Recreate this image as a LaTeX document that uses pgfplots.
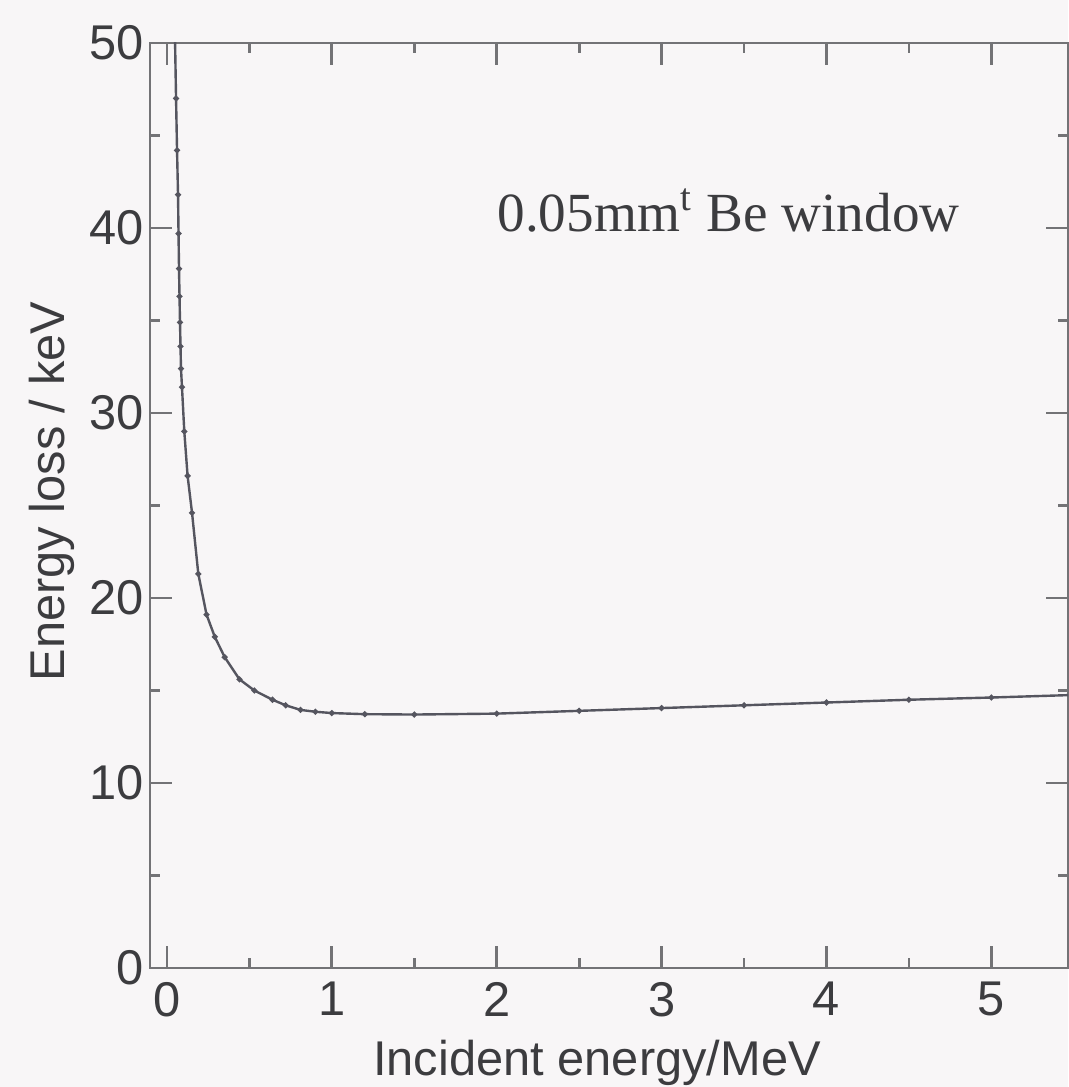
\documentclass[border=0pt]{standalone}
\usepackage{pgfplots}
\pgfplotsset{compat=1.18}
\usepackage{fontspec}
\setmainfont{Liberation Sans}
\newfontfamily\timesfont{Liberation Serif}
\usetikzlibrary{calc}
\definecolor{bgc}{RGB}{248,246,247}
\definecolor{axc}{RGB}{115,115,118}
\definecolor{curvec}{RGB}{85,85,95}
\definecolor{txtc}{RGB}{60,60,63}
\pagecolor{bgc}

% Energy loss of electrons in a 0.05 mm Be window
\pgfplotstableread{
E      loss
0.048  50.6
0.055  47.0
0.061  44.2
0.067  41.8
0.070  39.7
0.073  37.8
0.076  36.3
0.079  34.9
0.082  33.6
0.085  32.4
0.091  31.4
0.105  29.0
0.125  26.6
0.152  24.6
0.190  21.3
0.240  19.1
0.290  17.9
0.350  16.8
0.440  15.6
0.530  15.0
0.640  14.5
0.720  14.2
0.810  13.95
0.900  13.85
1.000  13.78
1.200  13.72
1.500  13.70
2.000  13.75
2.500  13.90
3.000  14.05
3.500  14.20
4.000  14.35
4.500  14.50
5.000  14.62
5.470  14.75
}\lossdata

\begin{document}
\begin{tikzpicture}
\begin{axis}[
  scale only axis,
  width=229.5pt, height=231.25pt,
  xmin=-0.103, xmax=5.465,
  ymin=0, ymax=50,
  xtick={0,1,2,3,4,5},
  ytick={0,10,20,30,40,50},
  minor xtick={0.5,1.5,2.5,3.5,4.5},
  minor ytick={5,15,25,35,45},
  tick align=inside,
  tick pos=both,
  major tick length=5.5pt,
  minor tick length=2.5pt,
  axis line style={axc, line width=0.7pt},
  every tick/.style={axc, line width=0.7pt},
  /pgf/number format/assume math mode=true,
  tick label style={font=\fontsize{12.2}{14}\selectfont, text=txtc},
  yticklabel style={xshift=2pt},
  xticklabel style={yshift=0pt},
  label style={font=\fontsize{12.2}{14}\selectfont, text=txtc},
  xlabel={Incident energy/MeV},
  ylabel={Energy loss / keV},
  xlabel style={at={(axis description cs:0.487,-0.1157)}, anchor=base},
  ylabel style={at={(axis description cs:-0.0926,0.515)}, anchor=base},
  clip=true,
]
\addplot[curvec, line width=0.6pt, mark=*, mark size=0.4pt,
  mark options={fill=curvec, draw=curvec}] table[x=E, y=loss] {\lossdata};
\node[anchor=base west, inner sep=0pt, text=txtc,
  font=\timesfont\fontsize{13.8}{16}\selectfont]
  at (axis cs:2.0,39.8) {0.05mm\textsuperscript{t} Be window};
\coordinate (sw) at (rel axis cs:0,0);
\coordinate (ne) at (rel axis cs:1,1);
\end{axis}
\pgfresetboundingbox
\path[use as bounding box] ($(sw)+(-37.5pt,-29.75pt)$) rectangle ($(ne)+(0.1pt,10.75pt)$);
\end{tikzpicture}
\end{document}
